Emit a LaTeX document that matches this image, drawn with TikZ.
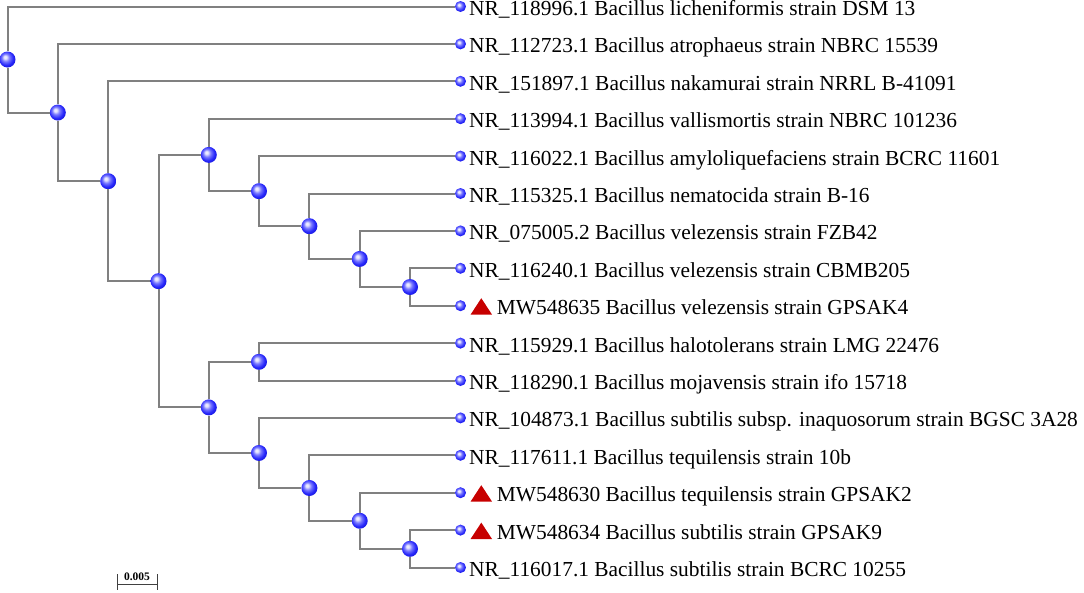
\documentclass[tikz,border=0pt]{standalone}
\usepackage{fontspec}
\setmainfont{Liberation Serif}
\usetikzlibrary{calc}
\definecolor{edgegray}{RGB}{128,128,128}
\definecolor{bb0}{RGB}{235,235,255}
\definecolor{bb1}{RGB}{120,120,255}
\definecolor{bb2}{RGB}{40,40,250}
\definecolor{bb3}{RGB}{20,20,220}
\definecolor{bb4}{RGB}{10,10,150}
\pgfdeclareradialshading{brightball}{\pgfpoint{-8bp}{8bp}}{color(0bp)=(bb0); color(4bp)=(bb0); color(12bp)=(bb1); color(22bp)=(bb2); color(30bp)=(bb3); color(34bp)=(bb4); color(50bp)=(bb4)}
\begin{document}
\begin{tikzpicture}[x=1pt,y=-1pt,
  edge/.style={draw=edgegray, line width=2pt},
  inode/.style={circle, minimum size=16pt, inner sep=0pt, shading=brightball},
  lnode/.style={circle, minimum size=11pt, inner sep=0pt, shading=brightball},
  lab/.style={anchor=base west, inner sep=0pt, font=\fontsize{21.4}{26}\selectfont},
  tri/.style={fill=red!78!black},
  sbar/.style={draw=black!75, line width=0.9pt}]
\useasboundingbox (0,0) rectangle (1084,592);
% leaves
\node[lnode] (L1)  at (460.5,6.5) {};
\node[lnode] (L2)  at (460.5,43.9) {};
\node[lnode] (L3)  at (460.5,81.3) {};
\node[lnode] (L4)  at (460.5,118.7) {};
\node[lnode] (L5)  at (460.5,156.1) {};
\node[lnode] (L6)  at (460.5,193.5) {};
\node[lnode] (L7)  at (460.5,230.9) {};
\node[lnode] (L8)  at (460.5,268.3) {};
\node[lnode] (L9)  at (460.5,305.7) {};
\node[lnode] (L10) at (460.5,343.1) {};
\node[lnode] (L11) at (460.5,380.5) {};
\node[lnode] (L12) at (460.5,417.9) {};
\node[lnode] (L13) at (460.5,455.3) {};
\node[lnode] (L14) at (460.5,492.7) {};
\node[lnode] (L15) at (460.5,530.1) {};
\node[lnode] (L16) at (460.5,567.5) {};
% internal nodes
\node[inode] (N1)  at (7.5,59.5) {};
\node[inode] (N2)  at (57.8,112.55) {};
\node[inode] (N3)  at (108.2,181.2) {};
\node[inode] (N4)  at (158.5,281.15) {};
\node[inode] (N5a) at (208.8,154.9) {};
\node[inode] (N6)  at (259,191.15) {};
\node[inode] (N7)  at (309.4,226.2) {};
\node[inode] (N8)  at (359.7,258.95) {};
\node[inode] (N9)  at (410,287) {};
\node[inode] (N5b) at (208.8,407.4) {};
\node[inode] (N6b) at (259,361.8) {};
\node[inode] (N6c) at (259,452.95) {};
\node[inode] (N7c) at (309.4,488.0) {};
\node[inode] (N8c) at (359.7,520.75) {};
\node[inode] (N9c) at (410,548.8) {};
% edges
\draw[edge] (N1) |- (L1);
\draw[edge] (N1) |- (N2);
\draw[edge] (N2) |- (L2);
\draw[edge] (N2) |- (N3);
\draw[edge] (N3) |- (L3);
\draw[edge] (N3) |- (N4);
\draw[edge] (N4) |- (N5a);
\draw[edge] (N4) |- (N5b);
\draw[edge] (N5a) |- (L4);
\draw[edge] (N5a) |- (N6);
\draw[edge] (N6) |- (L5);
\draw[edge] (N6) |- (N7);
\draw[edge] (N7) |- (L6);
\draw[edge] (N7) |- (N8);
\draw[edge] (N8) |- (L7);
\draw[edge] (N8) |- (N9);
\draw[edge] (N9) |- (L8);
\draw[edge] (N9) |- (L9);
\draw[edge] (N5b) |- (N6b);
\draw[edge] (N5b) |- (N6c);
\draw[edge] (N6b) |- (L10);
\draw[edge] (N6b) |- (L11);
\draw[edge] (N6c) |- (L12);
\draw[edge] (N6c) |- (N7c);
\draw[edge] (N7c) |- (L13);
\draw[edge] (N7c) |- (N8c);
\draw[edge] (N8c) |- (L14);
\draw[edge] (N8c) |- (N9c);
\draw[edge] (N9c) |- (L15);
\draw[edge] (N9c) |- (L16);
% labels
\node[lab] (t1)  at ($(L1)+(8.5,9)$)  {NR\_118996.1 Bacillus licheniformis strain DSM 13};
\node[lab] (t2)  at ($(L2)+(8.5,9)$)  {NR\_112723.1 Bacillus atrophaeus strain NBRC 15539};
\node[lab] (t3)  at ($(L3)+(8.5,9)$)  {NR\_151897.1 Bacillus nakamurai strain NRRL B-41091};
\node[lab] (t4)  at ($(L4)+(8.5,9)$)  {NR\_113994.1 Bacillus vallismortis strain NBRC 101236};
\node[lab] (t5)  at ($(L5)+(8.5,9)$)  {NR\_116022.1 Bacillus amyloliquefaciens strain BCRC 11601};
\node[lab] (t6)  at ($(L6)+(8.5,9)$)  {NR\_115325.1 Bacillus nematocida strain B-16};
\node[lab] (t7)  at ($(L7)+(8.5,9)$)  {NR\_075005.2 Bacillus velezensis strain FZB42};
\node[lab] (t8)  at ($(L8)+(8.5,9)$)  {NR\_116240.1 Bacillus velezensis strain CBMB205};
\node[lab] (t9)  at ($(L9)+(36.2,9)$) {MW548635 Bacillus velezensis strain GPSAK4};
\node[lab] (t10) at ($(L10)+(8.5,9)$) {NR\_115929.1 Bacillus halotolerans strain LMG 22476};
\node[lab] (t11) at ($(L11)+(8.5,9)$) {NR\_118290.1 Bacillus mojavensis strain ifo 15718};
\node[lab] (t12) at ($(L12)+(8.5,9)$) {NR\_104873.1 Bacillus subtilis subsp. inaquosorum strain BGSC 3A28};
\node[lab] (t13) at ($(L13)+(8.5,9)$) {NR\_117611.1 Bacillus tequilensis strain 10b};
\node[lab] (t14) at ($(L14)+(36.2,9)$) {MW548630 Bacillus tequilensis strain GPSAK2};
\node[lab] (t15) at ($(L15)+(36.2,9)$) {MW548634 Bacillus subtilis strain GPSAK9};
\node[lab] (t16) at ($(L16)+(8.5,9)$) {NR\_116017.1 Bacillus subtilis strain BCRC 10255};
% triangles
\foreach \l in {L9,L14,L15}{
  \fill[tri] ($(\l)+(10,9)$) -- ($(\l)+(31.6,9)$) -- ($(\l)+(20.8,-7.5)$) -- cycle;
}
% scale bar
\coordinate (sbL) at (117,584);
\coordinate (sbR) at (157,584);
\draw[sbar] (sbL) -- (sbR);
\draw[sbar] ($(sbL)+(0,-10)$) -- ($(sbL)+(0,6)$);
\draw[sbar] ($(sbR)+(0,-10)$) -- ($(sbR)+(0,6)$);
\node[anchor=base, inner sep=0pt, font=\fontsize{11.5}{13}\selectfont\bfseries] (sbt) at ($(sbL)!0.5!(sbR)+(0,-3.5)$) {0.005};
\end{tikzpicture}
\end{document}
